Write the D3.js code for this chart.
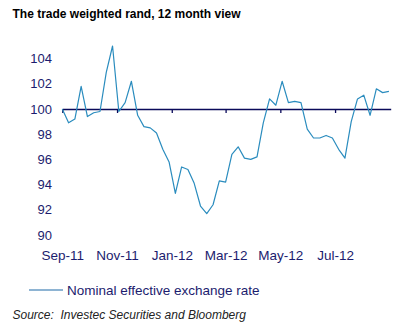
<!DOCTYPE html>
<html>
<head>
<meta charset="utf-8">
<script src="https://cdn.jsdelivr.net/npm/d3@7"></script>
<style>
  html, body { margin: 0; padding: 0; background: #ffffff; }
  svg { display: block; }
</style>
</head>
<body>
<svg id="chart" width="419" height="335"></svg>
<script>
// ---- data ----
const titleText = "The trade weighted rand, 12 month view";
const seriesName = "Nominal effective exchange rate";
const sourceText = "Source:  Investec Securities and Bloomberg";
const startDate = "2011-09-01";           // first weekly observation
const values = [
  100.0, 98.9, 99.2, 101.8, 99.4, 99.7, 99.8, 102.9, 105.0, 99.8,
  100.5, 102.2, 99.5, 98.6, 98.5, 98.1, 96.8, 95.8, 93.3, 95.4,
  95.2, 94.1, 92.3, 91.7, 92.4, 94.3, 94.2, 96.4, 97.0, 96.1,
  96.0, 96.2, 98.9, 100.8, 100.3, 102.2, 100.5, 100.6, 100.5, 98.4,
  97.7, 97.7, 97.9, 97.7, 96.8, 96.1, 99.0, 100.8, 101.1, 99.5,
  101.6, 101.3, 101.4
];
const xTickDates = ["2011-09-01", "2011-11-01", "2012-01-01", "2012-03-01", "2012-05-01", "2012-07-01"];
const xTickLabels = ["Sep-11", "Nov-11", "Jan-12", "Mar-12", "May-12", "Jul-12"];
const yTicks = [90, 92, 94, 96, 98, 100, 102, 104];
const xDomain = ["2011-09-01", "2012-09-01"];
const yDomain = [90, 106];
const baseValue = 100;

// ---- drawing ----
const parse = d3.utcParse("%Y-%m-%d");
const start = parse(startDate);
const data = values.map((v, i) => ({ date: d3.utcDay.offset(start, 7 * i), value: v }));

const svg = d3.select("#chart");
const textColor = "#1c1c6e";
const axisColor = "#0a0a5a";
const lineColor = "#2a8cbe";

const x = d3.scaleUtc().domain(xDomain.map(parse)).range([62.3, 390.7]);
const y = d3.scaleLinear().domain(yDomain).range([235, 33.4]);

// title
svg.append("text")
  .attr("x", 12.5).attr("y", 17.5)
  .attr("font-family", "Liberation Sans, Arial, sans-serif")
  .attr("font-weight", "bold").attr("font-size", 12)
  .attr("fill", "#000").text(titleText);

// y tick labels
svg.append("g").selectAll("text").data(yTicks).join("text")
  .attr("x", 52).attr("y", d => y(d))
  .attr("dy", "0.36em")
  .attr("text-anchor", "end")
  .attr("font-family", "Liberation Sans, Arial, sans-serif")
  .attr("font-size", 13).attr("fill", textColor)
  .text(d => d);

// x axis at base value
const xAxis = d3.axisBottom(x)
  .tickValues(xTickDates.map(parse))
  .tickSize(4)
  .tickSizeOuter(0)
  .tickFormat("");
const gx = svg.append("g").attr("transform", `translate(0,${y(baseValue)})`).call(xAxis);
gx.select(".domain").attr("stroke", axisColor).attr("stroke-width", 1.3);
gx.selectAll(".tick line").attr("stroke", axisColor).attr("stroke-width", 1.3);

// x tick labels at bottom
svg.append("g").selectAll("text").data(xTickDates).join("text")
  .attr("x", d => x(parse(d)) + 0.5).attr("y", 260)
  .attr("text-anchor", "middle")
  .attr("font-family", "Liberation Sans, Arial, sans-serif")
  .attr("font-size", 13.5).attr("fill", textColor)
  .text((d, i) => xTickLabels[i]);

// series line
const line = d3.line().x(d => x(d.date)).y(d => y(d.value));
svg.append("path").datum(data)
  .attr("d", line)
  .attr("fill", "none")
  .attr("stroke", lineColor)
  .attr("stroke-width", 1.2)
  .attr("stroke-linejoin", "round");

// legend
svg.append("line")
  .attr("x1", 29).attr("x2", 63).attr("y1", 290).attr("y2", 290)
  .attr("stroke", "#1f6aa8").attr("stroke-width", 1.2);
svg.append("text")
  .attr("x", 67).attr("y", 294.5)
  .attr("font-family", "Liberation Sans, Arial, sans-serif")
  .attr("font-size", 13.5).attr("fill", textColor)
  .text(seriesName);

// source
svg.append("text")
  .attr("x", 12.5).attr("y", 318.5)
  .attr("font-family", "Liberation Sans, Arial, sans-serif")
  .attr("font-style", "italic").attr("font-size", 12)
  .attr("fill", "#222").attr("xml:space", "preserve")
  .style("white-space", "pre")
  .text(sourceText);
</script>
</body>
</html>
